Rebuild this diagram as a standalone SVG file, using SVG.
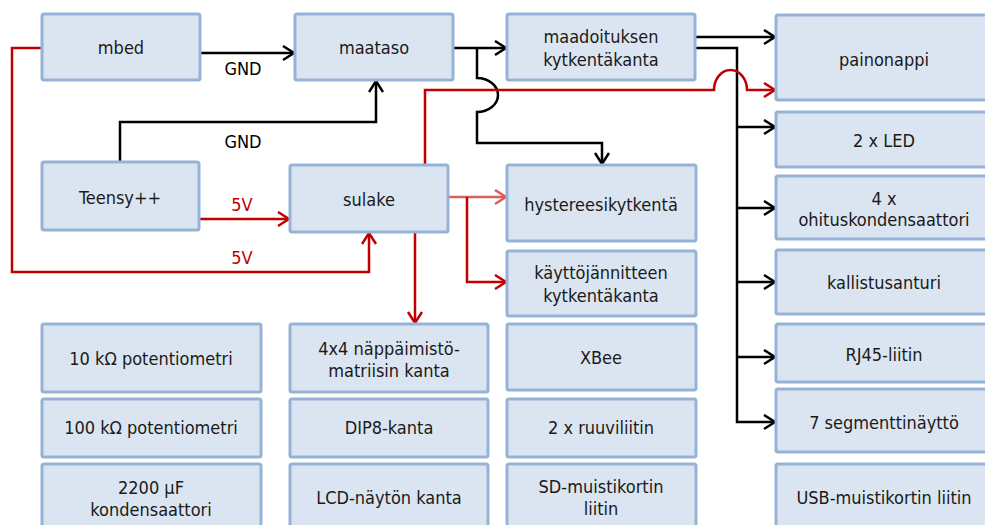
<svg xmlns="http://www.w3.org/2000/svg" width="985" height="525" viewBox="0 0 985 525">
<defs>
<style>
.box{fill:#dbe5f1;stroke:#95b3d7;stroke-width:3}
.t{font-family:"DejaVu Sans Condensed","DejaVu Sans",sans-serif;font-stretch:condensed;font-size:18px;fill:#1a1a1a;text-anchor:middle}
.lbl{font-family:"DejaVu Sans Condensed","DejaVu Sans",sans-serif;font-stretch:condensed;font-size:18px;text-anchor:middle}
.k{fill:none;stroke:#000;stroke-width:2.5}
.r{fill:none;stroke:#c00000;stroke-width:2.5}
.lr{fill:none;stroke:#d9605c;stroke-width:2.5}
</style>
<marker id="ak" markerUnits="userSpaceOnUse" markerWidth="16" markerHeight="18" refX="13" refY="8" orient="auto"><path d="M2,1 L13,8 L2,15" fill="none" stroke="#000" stroke-width="2.5"/></marker>
<marker id="ar" markerUnits="userSpaceOnUse" markerWidth="16" markerHeight="18" refX="13" refY="8" orient="auto"><path d="M2,1 L13,8 L2,15" fill="none" stroke="#c00000" stroke-width="2.5"/></marker>
<marker id="alr" markerUnits="userSpaceOnUse" markerWidth="16" markerHeight="18" refX="13" refY="8" orient="auto"><path d="M2,1 L13,8 L2,15" fill="none" stroke="#d9605c" stroke-width="2.5"/></marker>
</defs>
<rect width="985" height="525" fill="#fff"/>

<g id="connectors">
<path class="k" d="M200,53 H294" marker-end="url(#ak)"/>
<path class="k" d="M120,162 V122 H376 V81" marker-end="url(#ak)"/>
<path class="k" d="M453,48 H506" marker-end="url(#ak)"/>
<path class="k" d="M477,48 V78 A21,17 0 0 1 477,112 V143 H602 V164" marker-end="url(#ak)"/>
<path class="k" d="M695,37 H775" marker-end="url(#ak)"/>
<path class="k" d="M695,48 H737 V422 H775" marker-end="url(#ak)"/>
<path class="k" d="M737,127 H775" marker-end="url(#ak)"/>
<path class="k" d="M737,208 H775" marker-end="url(#ak)"/>
<path class="k" d="M737,282 H775" marker-end="url(#ak)"/>
<path class="k" d="M737,357 H775" marker-end="url(#ak)"/>
<path class="r" d="M425,165 V90 H714 A16.5,20 0 0 1 747,90 H775" marker-end="url(#ar)"/>
<path class="r" d="M199,219 H289" marker-end="url(#ar)"/>
<path class="r" d="M42,48 H12 V272 H369 V233" marker-end="url(#ar)"/>
<path class="lr" d="M448,197 H506" marker-end="url(#alr)"/>
<path class="r" d="M467,197 V282 H506" marker-end="url(#ar)"/>
<path class="r" d="M415,232 V323" marker-end="url(#ar)"/>
<text class="lbl" x="243" y="75" fill="#000">GND</text>
<text class="lbl" x="243" y="148" fill="#000">GND</text>
<text class="lbl" x="242" y="211" fill="#c00000">5V</text>
<text class="lbl" x="242" y="264" fill="#c00000">5V</text>
</g>

<g id="mbed"><rect class="box" x="42" y="14" width="158" height="66" rx="2"/><text class="t" x="121" y="54">mbed</text></g>
<g id="maataso"><rect class="box" x="295" y="14" width="158" height="66" rx="2"/><text class="t" x="374" y="54">maataso</text></g>
<g id="maadoituksen"><rect class="box" x="507" y="14" width="188" height="66" rx="2"/><text class="t" x="601" y="43">maadoituksen</text><text class="t" x="601" y="66">kytkentäkanta</text></g>
<g id="painonappi"><rect class="box" x="776" y="15" width="220" height="85" rx="2"/><text class="t" x="884" y="66">painonappi</text></g>
<g id="led"><rect class="box" x="776" y="112" width="220" height="55" rx="2"/><text class="t" x="884" y="147">2 x LED</text></g>
<g id="ohitus"><rect class="box" x="776" y="176" width="220" height="63" rx="2"/><text class="t" x="884" y="205">4 x</text><text class="t" x="884" y="226">ohituskondensaattori</text></g>
<g id="kallistus"><rect class="box" x="776" y="250" width="220" height="64" rx="2"/><text class="t" x="884" y="289">kallistusanturi</text></g>
<g id="rj45"><rect class="box" x="776" y="324" width="220" height="58" rx="2"/><text class="t" x="884" y="361">RJ45-liitin</text></g>
<g id="segment"><rect class="box" x="776" y="389" width="220" height="63" rx="2"/><text class="t" x="884" y="429">7 segmenttinäyttö</text></g>
<g id="usb"><rect class="box" x="776" y="464" width="220" height="70" rx="2"/><text class="t" x="884" y="504">USB-muistikortin liitin</text></g>
<g id="teensy"><rect class="box" x="42" y="162" width="157" height="68" rx="2"/><text class="t" x="120" y="204">Teensy++</text></g>
<g id="sulake"><rect class="box" x="290" y="165" width="158" height="67" rx="2"/><text class="t" x="369" y="206">sulake</text></g>
<g id="hystereesi"><rect class="box" x="507" y="165" width="189" height="76" rx="2"/><text class="t" x="601" y="211">hystereesikytkentä</text></g>
<g id="kayttojannite"><rect class="box" x="507" y="251" width="189" height="65" rx="2"/><text class="t" x="601" y="279">käyttöjännitteen</text><text class="t" x="601" y="302">kytkentäkanta</text></g>
<g id="pot10k"><rect class="box" x="42" y="324" width="219" height="68" rx="2"/><text class="t" x="151" y="365">10 kΩ potentiometri</text></g>
<g id="pot100k"><rect class="box" x="42" y="399" width="219" height="58" rx="2"/><text class="t" x="151" y="434">100 kΩ potentiometri</text></g>
<g id="kondensaattori"><rect class="box" x="42" y="464" width="219" height="70" rx="2"/><text class="t" x="151" y="494">2200 µF</text><text class="t" x="151" y="516">kondensaattori</text></g>
<g id="nappaimisto"><rect class="box" x="290" y="324" width="198" height="68" rx="2"/><text class="t" x="389" y="355">4x4 näppäimistö-</text><text class="t" x="389" y="377">matriisin kanta</text></g>
<g id="dip8"><rect class="box" x="290" y="399" width="198" height="58" rx="2"/><text class="t" x="389" y="434">DIP8-kanta</text></g>
<g id="lcd"><rect class="box" x="290" y="464" width="198" height="70" rx="2"/><text class="t" x="389" y="504">LCD-näytön kanta</text></g>
<g id="xbee"><rect class="box" x="507" y="324" width="189" height="66" rx="2"/><text class="t" x="601" y="364">XBee</text></g>
<g id="ruuvi"><rect class="box" x="507" y="399" width="189" height="58" rx="2"/><text class="t" x="601" y="434">2 x ruuviliitin</text></g>
<g id="sd"><rect class="box" x="507" y="464" width="189" height="70" rx="2"/><text class="t" x="601" y="493">SD-muistikortin</text><text class="t" x="601" y="515">liitin</text></g>
</svg>
